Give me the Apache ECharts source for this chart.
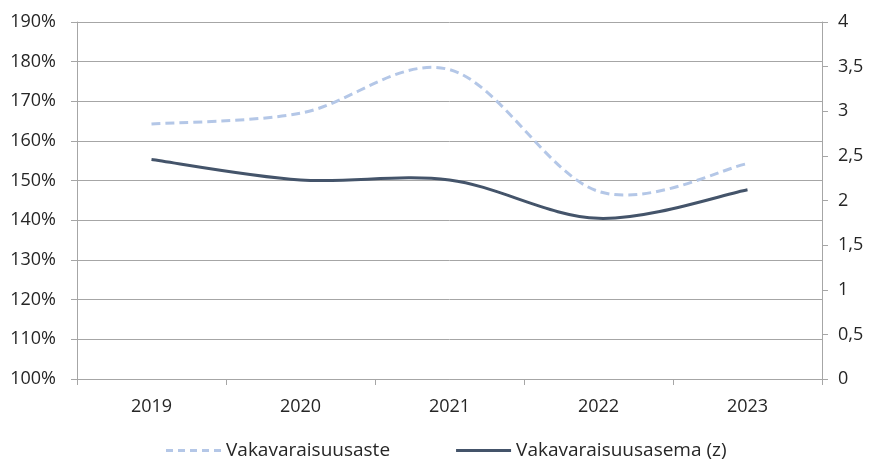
<!DOCTYPE html>
<html>
<head>
    <meta charset="utf-8">
    <title>Vakavaraisuus</title>
    <script src="https://cdn.jsdelivr.net/npm/echarts@6/dist/echarts.min.js"></script>
</head>
<body style="margin:0px;background-color:#ffffff;">
    <div id="main" style="width: 870px;height:461px;"></div>
    <script type="text/javascript">
        // data
        var years = ['2019', '2020', '2021', '2022', '2023'];
        var vakavaraisuusaste = [164.3, 167.0, 178.0, 147.3, 154.3];   // %
        var vakavaraisuusasema = [2.46, 2.23, 2.23, 1.80, 2.12];        // z, right axis

        var txt = '#262626';
        var axisGrey = '#a6a6a6';
        var font = 'Open Sans';
        var lightBlue = '#b4c7e7';
        var darkBlue = '#44546a';

        // Excel-like smoothed line (cardinal spline through the data points),
        // points come from the axes via api.coord
        function smoothLine(values, color, dash) {
            return function (params, api) {
                if (params.dataIndex !== 0) return;
                var p = values.map(function (v, i) { return api.coord([i, v]); });
                var n = p.length;
                var d = 'M' + p[0][0] + ' ' + p[0][1];
                for (var i = 0; i < n - 1; i++) {
                    var a = p[i - 1] || p[i];
                    var b = p[i];
                    var c = p[i + 1];
                    var e = p[i + 2] || p[i + 1];
                    var c1x = b[0] + (c[0] - a[0]) / 6, c1y = b[1] + (c[1] - a[1]) / 6;
                    var c2x = c[0] - (e[0] - b[0]) / 6, c2y = c[1] - (e[1] - b[1]) / 6;
                    d += ' C' + c1x + ' ' + c1y + ' ' + c2x + ' ' + c2y + ' ' + c[0] + ' ' + c[1];
                }
                return {
                    type: 'path',
                    shape: { pathData: d },
                    style: { fill: null, stroke: color, lineWidth: 3, lineDash: dash, lineCap: 'butt' }
                };
            };
        }

        function pairs(values) {
            return values.map(function (v, i) { return [i, v]; });
        }

        var dashIcon = 'path://M0,0h7v3h-7z M12,0h7v3h-7z M24,0h7v3h-7z M36,0h7v3h-7z M48,0h7v3h-7z';
        var solidIcon = 'path://M0,0h55v3h-55z';

        var myChart = echarts.init(document.getElementById('main'));
        var option = {
            animation: false,
            textStyle: { fontFamily: font },
            grid: { left: 77, right: 48, top: 22, bottom: 82 },
            legend: {
                top: 436,
                left: 161,
                itemWidth: 55,
                itemHeight: 3,
                itemGap: 66,
                textStyle: { fontSize: 19, color: txt, fontFamily: font },
                data: [
                    { name: 'Vakavaraisuusaste', icon: dashIcon },
                    { name: 'Vakavaraisuusasema (z)', icon: solidIcon }
                ]
            },
            xAxis: {
                type: 'category',
                data: years,
                boundaryGap: true,
                axisLine: { lineStyle: { color: axisGrey, width: 1 } },
                axisTick: { show: true, length: 6, lineStyle: { color: axisGrey } },
                axisLabel: { color: txt, fontSize: 18, margin: 19 }
            },
            yAxis: [{
                type: 'value',
                min: 100,
                max: 190,
                interval: 10,
                axisLine: { show: true, lineStyle: { color: axisGrey } },
                axisTick: { show: true, length: 6, lineStyle: { color: axisGrey } },
                splitLine: { lineStyle: { color: axisGrey, width: 1 } },
                axisLabel: { color: txt, fontSize: 18, margin: 21, formatter: '{value}%' }
            }, {
                type: 'value',
                min: 0,
                max: 4,
                interval: 0.5,
                position: 'right',
                axisLine: { show: true, lineStyle: { color: axisGrey } },
                axisTick: { show: true, length: 6, lineStyle: { color: axisGrey } },
                splitLine: { show: false },
                axisLabel: {
                    color: txt, fontSize: 18, margin: 16,
                    formatter: function (v) { return String(v).replace('.', ','); }
                }
            }],
            series: [{
                name: 'Vakavaraisuusaste',
                type: 'custom',
                yAxisIndex: 0,
                data: pairs(vakavaraisuusaste),
                encode: { x: 0, y: 1 },
                itemStyle: { color: lightBlue },
                renderItem: smoothLine(vakavaraisuusaste, lightBlue, [9, 5])
            }, {
                name: 'Vakavaraisuusasema (z)',
                type: 'custom',
                yAxisIndex: 1,
                data: pairs(vakavaraisuusasema),
                encode: { x: 0, y: 1 },
                itemStyle: { color: darkBlue },
                renderItem: smoothLine(vakavaraisuusasema, darkBlue, null)
            }]
        };
        myChart.setOption(option);
    </script>
</body>
</html>
